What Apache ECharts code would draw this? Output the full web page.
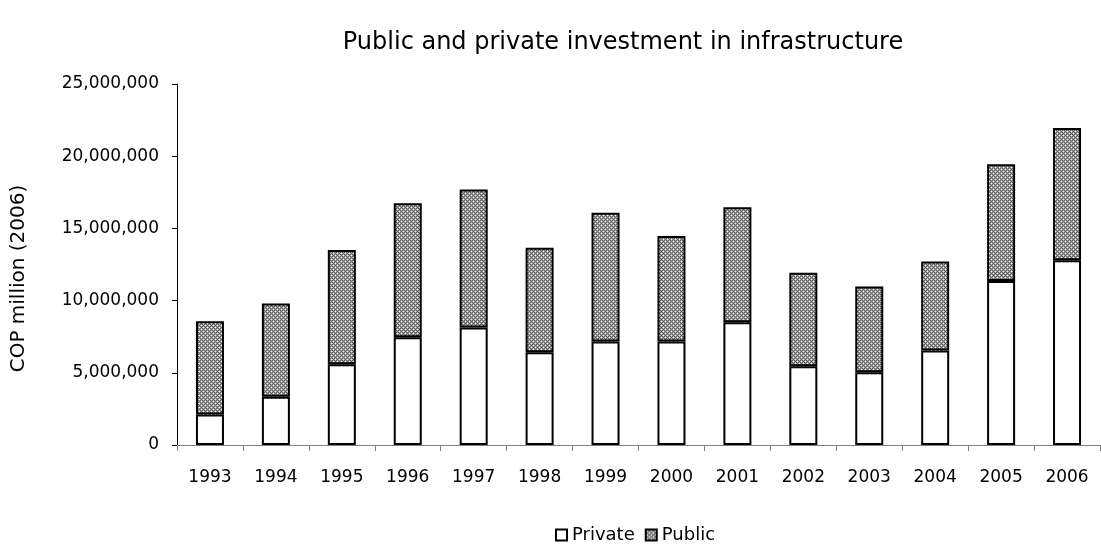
<!DOCTYPE html>
<html>
<head>
<meta charset="utf-8">
<script src="https://cdn.jsdelivr.net/npm/echarts@6/dist/echarts.min.js"></script>
<style>
  html, body { margin: 0; padding: 0; background: #fff; }
  #main { width: 1101px; height: 550px; }
</style>
</head>
<body>
<div id="main"></div>
<script>
var years = ['1993', '1994', '1995', '1996', '1997', '1998', '1999', '2000', '2001', '2002', '2003', '2004', '2005', '2006'];
// COP million (2006)
var privateInv = [2120000, 3350000, 5590000, 7460000, 8140000, 6420000, 7160000, 7170000, 8500000, 5450000, 5030000, 6540000, 11350000, 12800000];
var publicInv = [6450000, 6450000, 7910000, 9290000, 9560000, 7240000, 8930000, 7300000, 7960000, 6480000, 5950000, 6170000, 8090000, 9150000];
var yTicks = [0, 5000000, 10000000, 15000000, 20000000, 25000000];

// grey checkerboard with small white dots, like the original fill
function makePattern() {
  var c = document.createElement('canvas');
  c.width = 4; c.height = 4;
  var ctx = c.getContext('2d');
  for (var y = 0; y < 4; y++) {
    for (var x = 0; x < 4; x++) {
      ctx.fillStyle = ((x + y) % 2 === 0) ? '#5c5c5c' : '#a4a4a4';
      ctx.fillRect(x, y, 1, 1);
    }
  }
  ctx.fillStyle = '#ffffff';
  ctx.fillRect(1, 1, 1, 1);
  ctx.fillRect(3, 3, 1, 1);
  return c;
}
var pattern = { image: makePattern(), repeat: 'repeat' };

var myChart = echarts.init(document.getElementById('main'), null, { renderer: 'canvas' });
var fontFam = '"DejaVu Sans", sans-serif';

var option = {
  animation: false,
  title: {
    text: 'Public and private investment in infrastructure',
    left: 618,
    textAlign: 'center',
    top: 26,
    textStyle: { fontFamily: fontFam, fontWeight: 'normal', fontSize: 24, color: '#000' }
  },
  legend: {
    top: 521,
    left: 550,
    itemWidth: 11,
    itemHeight: 11,
    itemGap: 10,
    icon: 'rect',
    textStyle: { fontFamily: fontFam, fontSize: 18, color: '#000' },
    data: ['Private', 'Public']
  },
  grid: { left: 177, right: 1, top: 84, bottom: 105 },
  xAxis: {
    type: 'category',
    data: years,
    axisLine: { lineStyle: { color: '#808080', width: 1 } },
    axisTick: { show: true, length: 6, lineStyle: { color: '#808080' } },
    axisLabel: { fontFamily: fontFam, fontSize: 17, color: '#000', margin: 24 }
  },
  yAxis: {
    type: 'value',
    min: 0,
    max: 25000000,
    interval: 5000000,
    name: 'COP million (2006)',
    nameLocation: 'middle',
    nameGap: 148,
    nameTextStyle: { fontFamily: fontFam, fontSize: 20, color: '#000', padding: [0, 28, 0, 0] },
    splitLine: { show: false },
    axisLine: { show: true, lineStyle: { color: '#000', width: 1 } },
    axisTick: { show: true, length: 5, lineStyle: { color: '#000' } },
    axisLabel: {
      fontFamily: fontFam, fontSize: 17, color: '#000', margin: 18,
      formatter: function (v) {
        return yTicks.indexOf(v) >= 0 ? v.toLocaleString('en-US') : '';
      }
    }
  },
  series: [
    {
      name: 'Private',
      type: 'bar',
      stack: 'total',
      barWidth: 28,
      data: privateInv,
      itemStyle: { color: '#ffffff', borderColor: '#000', borderWidth: 2 }
    },
    {
      name: 'Public',
      type: 'bar',
      stack: 'total',
      barWidth: 28,
      data: publicInv,
      itemStyle: { color: pattern, borderColor: '#000', borderWidth: 2 }
    }
  ]
};

myChart.setOption(option);
</script>
</body>
</html>
